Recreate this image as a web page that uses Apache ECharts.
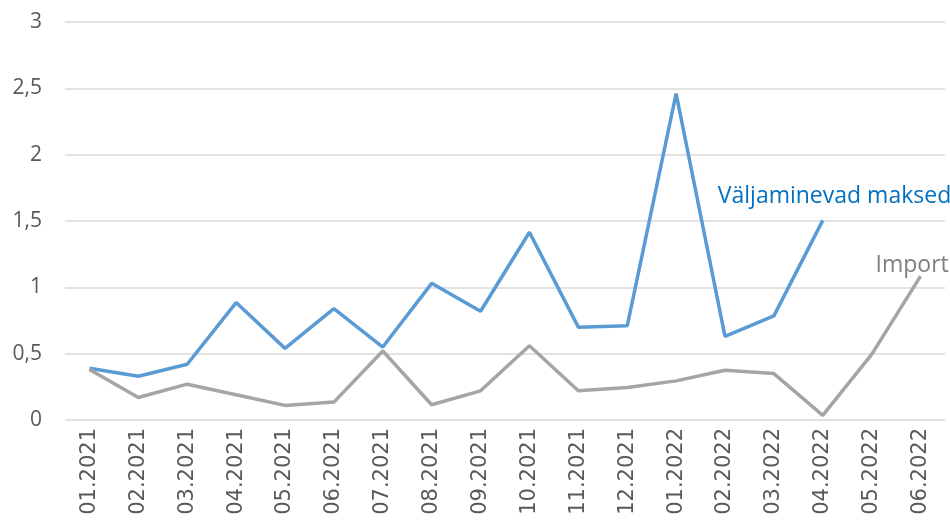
<!DOCTYPE html>
<html>
<head>
<meta charset="utf-8">
<script src="https://cdn.jsdelivr.net/npm/echarts@6/dist/echarts.min.js"></script>
<style>
  html, body { margin: 0; padding: 0; background: #fff; }
  #chart { width: 950px; height: 522px; }
</style>
</head>
<body>
<div id="chart"></div>
<script>
const months = [
  '01.2021', '02.2021', '03.2021', '04.2021', '05.2021', '06.2021',
  '07.2021', '08.2021', '09.2021', '10.2021', '11.2021', '12.2021',
  '01.2022', '02.2022', '03.2022', '04.2022', '05.2022', '06.2022',
]
const maksed = [0.39, 0.33, 0.42, 0.885, 0.54, 0.84, 0.55, 1.03, 0.82, 1.415, 0.7, 0.71, 2.46, 0.63, 0.785, 1.505]
const importVals = [0.38, 0.17, 0.27, 0.19, 0.11, 0.135, 0.52, 0.115, 0.22, 0.56, 0.22, 0.245, 0.295, 0.375, 0.35, 0.035, 0.495, 1.085]

const chart = echarts.init(document.getElementById('chart'))

chart.setOption({
  animation: false,
  grid: {
    left: 65,
    right: 5,
    top: 22,
    bottom: 102,
  },
  xAxis: {
    type: 'category',
    data: months,
    boundaryGap: true,
    axisLine: { show: false },
    axisTick: { show: false },
    axisLabel: {
      rotate: 90,
      interval: 0,
      margin: 8,
      color: '#595959',
      fontSize: 21,
      fontFamily: 'DejaVu Sans',
    },
  },
  yAxis: {
    type: 'value',
    min: 0,
    max: 3,
    interval: 0.5,
    axisLine: { show: false },
    axisTick: { show: false },
    splitLine: { lineStyle: { color: '#d9d9d9', width: 1.5 } },
    axisLabel: {
      margin: 23,
      color: '#595959',
      fontSize: 21,
      fontFamily: 'Open Sans',
      formatter: v => String(v).replace('.', ','),
    },
  },
  series: [
    {
      name: 'Väljaminevad maksed',
      type: 'line',
      data: maksed,
      symbol: 'none',
      lineStyle: { color: '#5B9BD5', width: 3.5 },
      endLabel: {
        show: true,
        formatter: 'Väljaminevad maksed',
        color: '#0070C0',
        fontSize: 23,
        fontFamily: 'Open Sans',
        offset: [-113, -24],
      },
    },
    {
      name: 'Import',
      type: 'line',
      data: importVals,
      symbol: 'none',
      lineStyle: { color: '#A5A5A5', width: 3.5 },
      endLabel: {
        show: true,
        formatter: 'Import',
        color: '#7F7F7F',
        fontSize: 23,
        fontFamily: 'Open Sans',
        offset: [-53, -11],
      },
    },
  ],
})
</script>
</body>
</html>
